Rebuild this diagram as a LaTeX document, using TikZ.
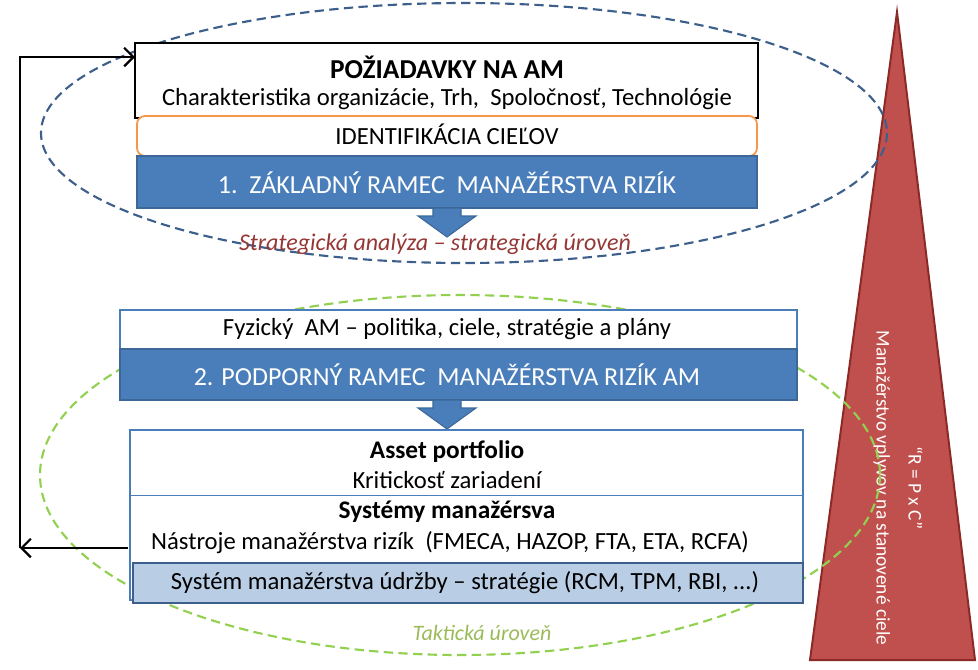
\documentclass[tikz,border=0pt]{standalone}
\usepackage{fontspec}
\setmainfont{Carlito}
\usetikzlibrary{arrows.meta}
\definecolor{dblue}{HTML}{4A7EBB}
\definecolor{bblue}{HTML}{3C6797}
\definecolor{lblue}{HTML}{B9CDE5}
\definecolor{eblue}{HTML}{3D5F8C}
\definecolor{egreen}{HTML}{92D050}
\definecolor{tred}{HTML}{C0504D}
\definecolor{tdark}{HTML}{8C2A28}
\definecolor{sred}{HTML}{953735}
\definecolor{tgreen}{HTML}{9BBB59}
\definecolor{orng}{HTML}{F79646}
\begin{document}
\begin{tikzpicture}[x=0.75pt,y=-0.75pt,
  txt/.style={font=\fontsize{18.5}{22}\selectfont, inner sep=0pt},
  btxt/.style={font=\fontsize{19}{23}\selectfont\bfseries, inner sep=0pt},
  wtxt/.style={font=\fontsize{19.5}{23}\selectfont, text=white, inner sep=0pt},
  barr/.style={fill=dblue, draw=bblue, line width=0.8pt},
  fb/.style={line width=1.6pt, -{Straight Barb[length=7pt,width=14pt]}}]
\useasboundingbox (0,0) rectangle (978,669);
% triangle
\draw[draw=tdark, line width=1.5pt, fill=tred] (897,12) -- (975,660) -- (810,660) -- cycle;
\node[rotate=-90, text=white, align=center, font=\fontsize{14.5}{24}\selectfont] (tri) at (898,488) {“R = P x C”\\Manažérstvo vplyvov na stanovené ciele};
% ellipses
\draw[eblue, line width=1.6pt, dash pattern=on 7pt off 4pt] (464,133) ellipse [x radius=423, y radius=130];
\draw[egreen, line width=1.6pt, dash pattern=on 7pt off 4pt] (460,475) ellipse [x radius=420, y radius=180];
% top block
\draw[black, line width=1.5pt, fill=white] (135,43) rectangle (758,118);
\node[font=\fontsize{20.5}{24}\selectfont\bfseries, inner sep=0pt] (req) at (447,67) {POŽIADAVKY NA AM};
\node[txt] (ch) at (447,99) {Charakteristika organizácie, Trh,\ \ Spoločnosť, Technológie};
\draw[orng, line width=1.3pt, fill=white, rounded corners=6pt] (137,116) rectangle (757,156);
\node[txt] (id) at (447,134) {IDENTIFIKÁCIA CIEĽOV};
\draw[bblue, line width=1pt, fill=dblue] (137,156) rectangle (757,208);
\node[wtxt] (r1) at (447,183) {1.\ \ ZÁKLADNÝ RAMEC\ \ MANAŽÉRSTVA RIZÍK};
\draw[barr] (433,208) -- (433,216) -- (418,216) -- (447,237) -- (476,216) -- (461,216) -- (461,208) -- cycle;
\node[font=\fontsize{18}{22}\selectfont\itshape, text=sred, inner sep=0pt] (s1) at (435,244) {Strategická analýza – strategická úroveň};
% second block
\draw[dblue, line width=1.3pt, fill=white] (120,310) rectangle (797,349);
\node[txt] (fy) at (447,329) {Fyzický\ \ AM – politika, ciele, stratégie a plány};
\draw[bblue, line width=1pt, fill=dblue] (120,349) rectangle (797,400);
\node[wtxt] (r2) at (447,375) {2. PODPORNÝ RAMEC\ \ MANAŽÉRSTVA RIZÍK AM};
\draw[barr] (433,400) -- (433,408) -- (418,408) -- (447,429) -- (476,408) -- (461,408) -- (461,400) -- cycle;
% third block
\draw[dblue, line width=1.3pt, fill=white] (130,430) rectangle (803,600);
\draw[dblue, line width=0.6pt] (130,495) -- (803,495);
\node[btxt] (ap) at (447,452) {Asset portfolio};
\node[txt] (kr) at (447,480) {Kritickosť zariadení};
\node[btxt] (sm) at (447,512) {Systémy manažérsva};
\node[txt] (na) at (450,543) {Nástroje manažérstva rizík\ \ (FMECA, HAZOP, FTA, ETA, RCFA)};
\draw[eblue, line width=2pt, fill=lblue] (133,563) rectangle (803,603);
\node[txt] (su) at (465,583) {Systém manažérstva údržby – stratégie (RCM, TPM, RBI, ...)};
\node[font=\fontsize{16.5}{20}\selectfont\itshape, text=tgreen, inner sep=0pt] (tk) at (482,633) {Taktická úroveň};
% feedback
\coordinate (c1) at (20,548);
\coordinate (b1) at (135,57);
\draw[fb] (128,548) -- (c1);
\draw[fb] (c1) |- (b1);
\end{tikzpicture}
\end{document}
